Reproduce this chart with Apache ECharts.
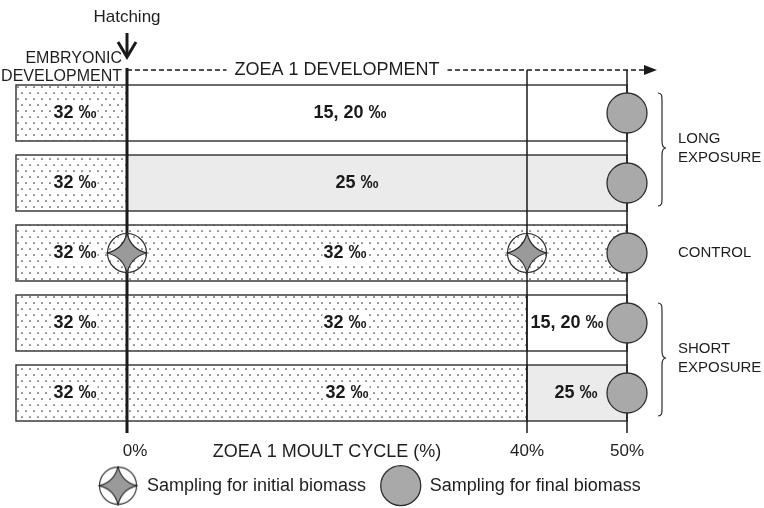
<!DOCTYPE html>
<html>
<head>
<meta charset="utf-8">
<title>Zoea 1 moult cycle</title>
<script src="https://cdn.jsdelivr.net/npm/echarts@6.0.0/dist/echarts.min.js"></script>
<style>
  html, body { margin: 0; padding: 0; background: #fff; }
  #main { width: 764px; height: 508px; }
</style>
</head>
<body>
<div id="main"></div>
<script>
// treatments, top to bottom
let rows = ['long 15,20', 'long 25', 'control', 'short 15,20', 'short 25'];

// zoea 1 moult cycle (%)
let embryoFrom = -11.1;
let hatch = 0;
let shortFrom = 40;
let cycleEnd = 50;
let tickValues = [0, 40, 50];

// salinity pieces of each bar
let segRow  = [0, 0, 1, 1, 2, 2, 3, 3, 3, 4, 4, 4];
let segFrom = [-11.1, 0, -11.1, 0, -11.1, 0, -11.1, 0, 40, -11.1, 0, 40];
let segTo   = [0, 50, 0, 50, 0, 50, 0, 40, 50, 0, 40, 50];
let segFill = ['dots', 'white', 'dots', 'grey', 'dots', 'dots', 'dots', 'dots', 'white', 'dots', 'dots', 'grey'];
let segText = ['32 ‰', '15, 20 ‰', '32 ‰', '25 ‰', '32 ‰', '32 ‰', '32 ‰', '32 ‰', '15, 20 ‰', '32 ‰', '32 ‰', '25 ‰'];
let segTextAt = [-5.2, 22.3, -5.2, 23, -5.2, 21.8, -5.2, 21.8, 44, -5.2, 22, 44.9];

// sampling points
let initialRow = [2, 2];
let initialAt = [0, 40];
let finalRow = [0, 1, 2, 3, 4];
let finalAt = [50, 50, 50, 50, 50];

// groups on the right
let groupNames = ['LONG\nEXPOSURE', 'CONTROL', 'SHORT\nEXPOSURE'];
let groupFirst = [0, 2, 3];
let groupLast = [1, 2, 4];

let FONT = '"Liberation Sans", Arial, sans-serif';
let INITIAL = 'Sampling for initial biomass';
let FINAL = 'Sampling for final biomass';

function dotCanvas() {
    let c = document.createElement('canvas');
    c.width = 8;
    c.height = 12;
    let g = c.getContext('2d');
    g.fillStyle = '#fff';
    g.fillRect(0, 0, 8, 12);
    g.fillStyle = '#3a3a3a';
    g.beginPath();
    g.arc(2, 3, 0.85, 0, Math.PI * 2);
    g.arc(6, 9, 0.85, 0, Math.PI * 2);
    g.fill();
    return c;
}

function starPath(cx, cy, r, k) {
    return 'M' + cx + ' ' + (cy - r) +
        ' Q' + (cx + k) + ' ' + (cy - k) + ' ' + (cx + r) + ' ' + cy +
        ' Q' + (cx + k) + ' ' + (cy + k) + ' ' + cx + ' ' + (cy + r) +
        ' Q' + (cx - k) + ' ' + (cy + k) + ' ' + (cx - r) + ' ' + cy +
        ' Q' + (cx - k) + ' ' + (cy - k) + ' ' + cx + ' ' + (cy - r) + ' Z';
}

// legend icon for the initial sampling mark
function initialIcon() {
    let c = document.createElement('canvas');
    c.width = 84;
    c.height = 84;
    let g = c.getContext('2d');
    g.scale(2, 2);
    g.lineWidth = 1.2;
    g.strokeStyle = '#2e2e2e';
    g.beginPath();
    g.arc(21, 21, 19.5, 0, Math.PI * 2);
    g.stroke();
    g.fillStyle = '#9a9a9a';
    g.fill(new Path2D(starPath(21, 21, 20, 3.8)));
    g.stroke(new Path2D(starPath(21, 21, 20, 3.8)));
    return c.toDataURL();
}

let fills = {
    dots: { image: dotCanvas(), repeat: 'repeat' },
    white: '#ffffff',
    grey: '#ebebeb'
};

function renderSegment(params, api) {
    let i = params.dataIndex;
    let row = api.value(2);
    let p0 = api.coord([api.value(0), row]);
    let p1 = api.coord([api.value(1), row]);
    let h = api.size([0, 1])[1] * 0.8;
    let tx = api.coord([segTextAt[i], row])[0];
    return {
        type: 'group',
        children: [{
            type: 'rect',
            shape: { x: p0[0], y: p0[1] - h / 2, width: p1[0] - p0[0], height: h },
            style: { fill: fills[segFill[i]], stroke: '#3c3c3c', lineWidth: 1.5 }
        }, {
            type: 'text',
            x: tx,
            y: p0[1],
            style: {
                text: segText[i],
                align: 'center',
                verticalAlign: 'middle',
                font: 'bold 18px ' + FONT,
                fill: '#1a1a1a',
                backgroundColor: segFill[i] == 'dots' ? '#fff' : null,
                padding: [0, 1]
            }
        }]
    };
}

function line(x1, y1, x2, y2, w, dash) {
    return {
        type: 'line',
        shape: { x1: x1, y1: y1, x2: x2, y2: y2 },
        style: { stroke: '#1a1a1a', lineWidth: w, lineDash: dash || null }
    };
}

function label(text, x, y, size, align, extra) {
    let style = {
        text: text, align: align || 'center', verticalAlign: 'middle',
        font: size + 'px ' + FONT, fill: '#1e1e1e', lineHeight: size + 2
    };
    return { type: 'text', x: x, y: y, style: Object.assign(style, extra || {}) };
}

// time lines, hatching arrow, development arrow, axis title
function renderFrame(params, api) {
    let cs = params.coordSys;
    let x0 = api.coord([hatch, 0])[0];
    let xEnd = api.coord([cycleEnd, 0])[0];
    let top = cs.y - 8;
    let bottom = cs.y + cs.height + 5;
    let tip = xEnd + 30;
    let kids = [];

    kids.push(line(x0, top, tip - 12, top, 1.3, [5, 3]));
    kids.push({
        type: 'polygon',
        shape: { points: [[tip - 13, top - 5], [tip, top], [tip - 13, top + 5]] },
        style: { fill: '#1a1a1a' }
    });
    kids.push(label('ZOEA 1 DEVELOPMENT', api.coord([21, 0])[0], top, 18, 'center',
        { backgroundColor: '#fff', padding: [0, 8] }));

    tickValues.forEach(function (v) {
        let x = api.coord([v, 0])[0];
        kids.push(line(x, v == hatch ? top - 2 : top, x, bottom, v == hatch ? 3 : 1.5));
    });

    kids.push(line(x0, top - 37, x0, top - 14, 3));
    kids.push({
        type: 'polyline',
        shape: { points: [[x0 - 9, top - 28], [x0, top - 13], [x0 + 9, top - 28]] },
        style: { stroke: '#1a1a1a', lineWidth: 3, fill: null }
    });
    kids.push(label('Hatching', x0, top - 53, 17));
    kids.push(label('EMBRYONIC\nDEVELOPMENT', x0 - 5, top - 2, 16, 'right'));

    kids.push(label('ZOEA 1 MOULT CYCLE (%)', api.coord([20, 0])[0], bottom + 19, 18));
    return { type: 'group', children: kids };
}

function renderInitial(params, api) {
    let p = api.coord([api.value(0), api.value(1)]);
    return {
        type: 'group',
        children: [{
            type: 'circle',
            shape: { cx: p[0], cy: p[1], r: 19.5 },
            style: { fill: null, stroke: '#2e2e2e', lineWidth: 1.2 }
        }, {
            type: 'path',
            shape: { pathData: starPath(p[0], p[1], 20, 3.8) },
            style: { fill: '#9a9a9a', stroke: '#2e2e2e', lineWidth: 1.2 }
        }]
    };
}

function renderGroup(params, api) {
    let i = params.dataIndex;
    let a = api.coord([api.value(0), api.value(1)]);
    let b = api.coord([api.value(0), api.value(2)]);
    let h = api.size([0, 1])[1] * 0.8;
    let mid = (a[1] + b[1]) / 2;
    let kids = [];
    if (groupLast[i] > groupFirst[i]) {
        let x = a[0] + 31;
        let y1 = a[1] - h / 2 + 8;
        let y2 = b[1] + h / 2 - 5;
        let d = 'M' + x + ' ' + y1 +
            ' C' + (x + 4) + ' ' + y1 + ' ' + (x + 4) + ' ' + (y1 + 3) + ' ' + (x + 4) + ' ' + (y1 + 8) +
            ' L' + (x + 4) + ' ' + (mid - 7) +
            ' C' + (x + 4) + ' ' + (mid - 2) + ' ' + (x + 5) + ' ' + mid + ' ' + (x + 8) + ' ' + mid +
            ' C' + (x + 5) + ' ' + mid + ' ' + (x + 4) + ' ' + (mid + 2) + ' ' + (x + 4) + ' ' + (mid + 7) +
            ' L' + (x + 4) + ' ' + (y2 - 8) +
            ' C' + (x + 4) + ' ' + (y2 - 3) + ' ' + (x + 4) + ' ' + y2 + ' ' + x + ' ' + y2;
        kids.push({
            type: 'path',
            shape: { pathData: d },
            style: { fill: null, stroke: '#2a2a2a', lineWidth: 1.2 }
        });
    }
    kids.push(label(groupNames[i], a[0] + 51, mid, 15, 'left', { lineHeight: 19 }));
    return { type: 'group', children: kids };
}

let myChart = echarts.init(document.getElementById('main'));

let option = {
    animation: false,
    textStyle: { fontFamily: FONT },
    grid: {
        left: 16,
        right: 0,
        top: 78,
        bottom: 80,
        outerBoundsMode: 'none'
    },
    legend: {
        left: 98,
        top: 465,
        padding: 0,
        itemWidth: 40,
        itemHeight: 40,
        itemGap: 14,
        textStyle: { fontSize: 18, color: '#1e1e1e', padding: [0, 0, 0, 4] },
        data: [
            { name: INITIAL, icon: 'image://' + initialIcon() },
            { name: FINAL, icon: 'circle', itemStyle: { borderWidth: 1.3, borderColor: '#2e2e2e' } }
        ]
    },
    xAxis: {
        type: 'value',
        min: embryoFrom,
        max: 63.7,
        axisLine: { show: false },
        axisTick: { show: false },
        splitLine: { show: false },
        axisLabel: {
            customValues: tickValues,
            formatter: function (v) {
                return v === hatch ? '{h|' + v + '%}' : v + '%';
            },
            rich: {
                h: { fontSize: 17, color: '#222', padding: [0, 0, 0, 16] }
            },
            fontSize: 17,
            color: '#222',
            margin: 15
        }
    },
    yAxis: {
        type: 'category',
        data: rows,
        inverse: true,
        show: false
    },
    series: [{
        type: 'custom',
        name: 'bars',
        silent: true,
        z: 1,
        renderItem: renderSegment,
        encode: { x: [0, 1], y: 2 },
        data: segRow.map(function (r, i) { return [segFrom[i], segTo[i], r]; })
    }, {
        type: 'custom',
        name: 'frame',
        silent: true,
        z: 2,
        renderItem: renderFrame,
        encode: { x: 0, y: 1 },
        data: [[hatch, 0]]
    }, {
        type: 'custom',
        name: 'groups',
        silent: true,
        z: 2,
        renderItem: renderGroup,
        encode: { x: 0, y: [1, 2] },
        data: groupFirst.map(function (f, i) { return [cycleEnd, f, groupLast[i]]; })
    }, {
        type: 'custom',
        name: INITIAL,
        z: 3,
        renderItem: renderInitial,
        encode: { x: 0, y: 1 },
        data: initialAt.map(function (x, i) { return [x, initialRow[i]]; })
    }, {
        type: 'scatter',
        name: FINAL,
        z: 3,
        symbol: 'circle',
        symbolSize: 40,
        itemStyle: { color: '#a9a9a9', borderColor: '#2e2e2e', borderWidth: 1.3, opacity: 1 },
        data: finalAt.map(function (x, i) { return [x, finalRow[i]]; })
    }]
};

myChart.setOption(option);
</script>
</body>
</html>
